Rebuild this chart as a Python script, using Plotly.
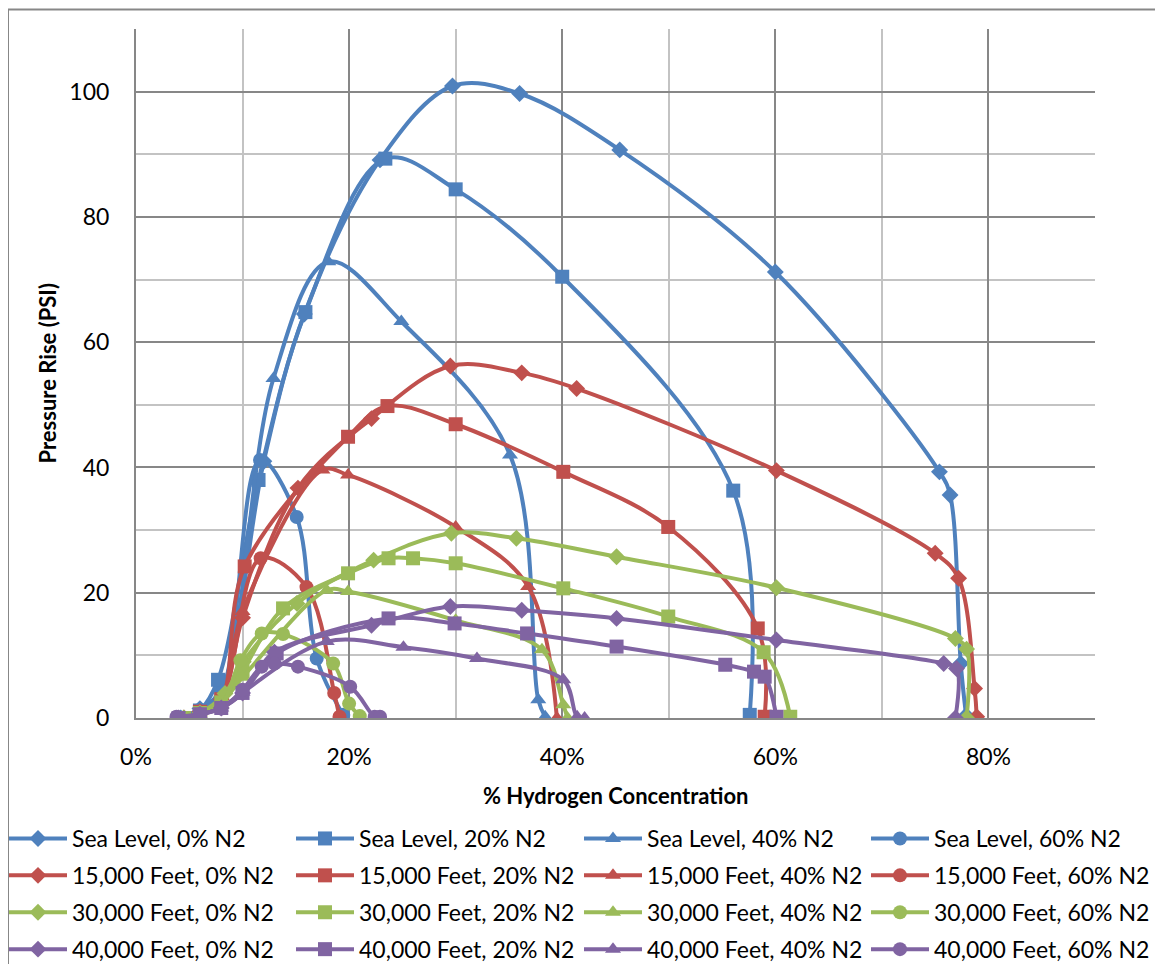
import plotly.graph_objects as go

# ---------------- data (x = % hydrogen, y = pressure rise psi) ----------------
sl0_x = [4.2, 6.0, 8.0, 12.0, 15.8, 22.9, 29.7, 36.0, 45.4, 60.0, 75.4, 76.4, 77.4, 77.9]
sl0_y = [0.0, 1.5, 4.5, 41.0, 64.5, 89.1, 100.9, 99.7, 90.7, 71.2, 39.3, 35.6, 8.7, 0.4]

sl20_x = [4.5, 6.0, 7.7, 11.5, 15.9, 23.4, 30.0, 40.0, 56.05, 57.6]
sl20_y = [0.0, 1.2, 6.1, 38.0, 64.8, 89.3, 84.4, 70.45, 36.3, 0.5]

sl40_x = [4.5, 6.0, 8.0, 12.9, 18.05, 24.9, 35.1, 37.75, 38.4]
sl40_y = [0.0, 1.2, 4.0, 54.2, 72.85, 63.3, 42.0, 2.9, 0.2]

sl60_x = [4.5, 6.0, 8.0, 11.64, 15.08, 16.96, 19.45]
sl60_y = [0.0, 1.2, 4.0, 41.2, 32.1, 9.5, 0.5]

k15_0_x = [4.5, 6.0, 8.0, 10.0, 15.2, 22.1, 29.5, 36.2, 41.35, 60.1, 75.0, 77.2, 78.7, 78.9]
k15_0_y = [0.0, 1.0, 3.0, 16.0, 36.7, 47.8, 56.2, 55.1, 52.6, 39.5, 26.3, 22.3, 4.7, 0.2]

k15_20_x = [4.5, 6.0, 8.0, 10.2, 19.9, 23.6, 30.0, 40.1, 49.95, 58.35, 59.0]
k15_20_y = [0.0, 1.0, 3.0, 24.2, 44.9, 49.8, 46.9, 39.3, 30.5, 14.3, 0.2]

k15_40_x = [4.5, 6.0, 8.0, 10.0, 17.5, 19.9, 30.0, 36.8, 39.5]
k15_40_y = [0.0, 1.0, 3.0, 17.0, 39.6, 38.8, 30.5, 21.0, 0.0]

k15_60_x = [4.5, 6.0, 8.0, 11.7, 16.0, 18.6, 19.1]
k15_60_y = [0.0, 1.0, 3.0, 25.5, 20.9, 4.0, 0.2]

k30_0_x = [4.5, 6.0, 8.35, 10.07, 15.1, 22.3, 29.6, 35.7, 45.1, 60.1, 76.9, 77.95, 77.95]
k30_0_y = [0.0, 0.8, 3.9, 9.0, 18.3, 25.2, 29.5, 28.7, 25.75, 20.8, 12.7, 11.0, 0.0]

k30_20_x = [4.5, 6.0, 8.0, 10.0, 13.8, 19.9, 23.7, 26.0, 30.0, 40.1, 49.95, 58.9, 61.4]
k30_20_y = [0.0, 0.8, 2.5, 7.5, 17.5, 23.1, 25.5, 25.5, 24.7, 20.7, 16.2, 10.5, 0.2]

k30_40_x = [4.5, 6.0, 8.0, 10.0, 17.9, 19.9, 30.0, 38.1, 40.1, 40.5]
k30_40_y = [0.0, 0.8, 2.5, 6.5, 20.4, 20.2, 15.6, 10.9, 2.1, 0.0]

k30_60_x = [4.5, 6.0, 8.0, 9.8, 11.8, 13.8, 18.5, 20.0, 21.0]
k30_60_y = [0.0, 0.8, 2.0, 9.2, 13.5, 13.4, 8.7, 2.3, 0.3]

k40_0_x = [4.0, 6.0, 8.0, 10.0, 13.0, 22.1, 29.5, 36.2, 45.1, 60.1, 75.8, 77.0, 76.9]
k40_0_y = [0.0, 0.6, 1.6, 4.0, 10.5, 14.8, 17.8, 17.2, 15.9, 12.45, 8.7, 7.9, 0.0]

k40_20_x = [4.0, 6.0, 8.0, 10.0, 13.2, 23.7, 29.9, 36.7, 45.1, 55.3, 58.0, 59.0, 60.1]
k40_20_y = [0.0, 0.6, 1.6, 4.0, 10.3, 15.9, 15.1, 13.5, 11.4, 8.5, 7.4, 6.6, 0.2]

k40_40_x = [4.0, 6.0, 8.0, 10.0, 17.9, 25.1, 32.0, 40.1, 41.4, 42.1]
k40_40_y = [0.0, 0.6, 1.6, 4.1, 12.2, 11.3, 9.5, 6.1, 0.2, 0.0]

k40_60_x = [3.8, 6.0, 8.0, 10.0, 11.8, 13.0, 15.2, 20.1, 22.4, 22.9]
k40_60_y = [0.2, 0.6, 1.5, 4.5, 8.2, 8.7, 8.2, 5.0, 0.2, 0.2]

altitudes = ["Sea Level", "15,000 Feet", "30,000 Feet", "40,000 Feet"]
n2_levels = ["0% N2", "20% N2", "40% N2", "60% N2"]
x_tickvals = [0, 20, 40, 60, 80]
x_ticktext = ["0%", "20%", "40%", "60%", "80%"]
y_ticks = [0, 20, 40, 60, 80, 100]

data_x = [[sl0_x, sl20_x, sl40_x, sl60_x],
          [k15_0_x, k15_20_x, k15_40_x, k15_60_x],
          [k30_0_x, k30_20_x, k30_40_x, k30_60_x],
          [k40_0_x, k40_20_x, k40_40_x, k40_60_x]]
data_y = [[sl0_y, sl20_y, sl40_y, sl60_y],
          [k15_0_y, k15_20_y, k15_40_y, k15_60_y],
          [k30_0_y, k30_20_y, k30_40_y, k30_60_y],
          [k40_0_y, k40_20_y, k40_40_y, k40_60_y]]

colors = ["#4F81BD", "#C0504D", "#9BBB59", "#8064A2"]
symbols = ["diamond", "square", "triangle-up", "circle"]
sizes = [13, 14, 14, 14]

# ---------------- layout geometry ----------------
# the page body adds an 8px offset, so figure coordinates = screen - 8
OFF = 8
W, H = 1163 - OFF, 964 - OFF
PL, PR, PT, PB = 136 - OFF, 1095 - OFF, 29 - OFF, 718 - OFF
pw, ph = PR - PL, PB - PT

def px2paper_x(sx):
    return (sx - OFF - PL) / pw

def px2paper_y(sy):
    return (PB - (sy - OFF)) / ph

FONT = "Lato, 'Open Sans', sans-serif"
legend_cols_x = [4, 291, 579, 866]   # screen px of legend box left
legend_top_px = 817                  # screen px of legend box top

fig = go.Figure()
legend_names = ["legend", "legend2", "legend3", "legend4"]
for a, alt in enumerate(altitudes):
    for n, n2 in enumerate(n2_levels):
        fig.add_trace(go.Scatter(
            x=data_x[a][n], y=data_y[a][n],
            name=f"{alt}, {n2}",
            mode="lines+markers",
            line=dict(color=colors[a], width=4, shape="spline", smoothing=1.0),
            marker=dict(symbol=symbols[n], size=sizes[n], color=colors[a],
                        line=dict(width=0)),
            legend=legend_names[n],
            legendgroup=f"g{a}{n}",
        ))

legend_common = dict(
    orientation="v", xanchor="left", yanchor="top",
    itemwidth=58, font=dict(family=FONT, size=23, color="#000000"),
    bgcolor="rgba(0,0,0,0)", traceorder="grouped", tracegroupgap=4,
    y=px2paper_y(legend_top_px),
)

layout_legends = {}
for i, ln in enumerate(legend_names):
    layout_legends[ln] = dict(legend_common, x=px2paper_x(legend_cols_x[i]))

fig.update_layout(
    width=W, height=H,
    margin=dict(l=PL, r=W - PR, t=PT, b=H - PB, pad=0, autoexpand=False),
    paper_bgcolor="white", plot_bgcolor="white",
    font=dict(family=FONT, size=23, color="#000000"),
    showlegend=True,
    **layout_legends,
    xaxis=dict(
        range=[0, 90], tickmode="array", tickvals=x_tickvals, ticktext=x_ticktext,
        showgrid=True, gridcolor="#878787", gridwidth=2,
        minor=dict(dtick=10, tick0=0, showgrid=True, gridcolor="#C3C3C3", gridwidth=2),
        zeroline=False, showline=True, linecolor="#878787", linewidth=2,
        ticks="", ticklabelstandoff=17,
        tickfont=dict(family=FONT, size=23, color="#000000"),
    ),
    yaxis=dict(
        range=[0, 110], tickmode="array", tickvals=y_ticks,
        showgrid=True, gridcolor="#878787", gridwidth=2,
        minor=dict(dtick=10, tick0=0, showgrid=True, gridcolor="#C3C3C3", gridwidth=2),
        zeroline=False, showline=True, linecolor="#878787", linewidth=2,
        ticks="", ticklabelstandoff=20,
        tickfont=dict(family=FONT, size=23, color="#000000"),
    ),
    annotations=[
        dict(text="<b>% Hydrogen Concentration</b>", xref="paper", yref="paper",
             x=0.5, y=px2paper_y(795), xanchor="center", yanchor="middle",
             showarrow=False, font=dict(family=FONT, size=22, color="#000000")),
        dict(text="<b>Pressure Rise (PSI)</b>", xref="paper", yref="paper",
             x=px2paper_x(47), y=0.5, xanchor="center", yanchor="middle",
             textangle=-90, showarrow=False,
             font=dict(family=FONT, size=22, color="#000000")),
    ],
    shapes=[
        dict(type="rect", xref="paper", yref="paper", layer="below",
             x0=px2paper_x(8), x1=px2paper_x(1161),
             y0=px2paper_y(1000), y1=px2paper_y(9.5),
             line=dict(color="#878787", width=2), fillcolor="rgba(0,0,0,0)"),
    ],
)

fig.write_html("out.html")
